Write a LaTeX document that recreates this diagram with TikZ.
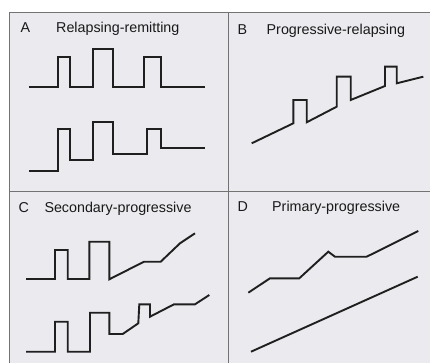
\documentclass[tikz,border=0pt]{standalone}
\usepackage{fontspec}
\setmainfont{Liberation Sans}
\definecolor{panelbg}{RGB}{234,234,239}
\begin{document}
\begin{tikzpicture}[x=1pt,y=-1pt,
  curve/.style={line width=1.9pt, draw=black!88, line join=miter},
  frame/.style={line width=1.1pt, draw=black!55},
  lbl/.style={anchor=base west, inner sep=0pt, font=\fontsize{14.3}{17}\selectfont, text=black!90}]
\useasboundingbox (0,0) rectangle (430,363);
\fill[white] (0,0) rectangle (430,363);
\fill[panelbg] (9.5,12.5) rectangle (430,363);
\draw[frame] (430,12.5) -- (9.5,12.5) -- (9.5,363);
\draw[frame] (228.3,12.5) -- (228.3,363);
\draw[frame] (9.5,191.7) -- (430,191.7);
% labels
\node[lbl] (la) at (20.5,33) {A};
\node[lbl] (ta) at (56,33) {Relapsing-remitting};
\node[lbl] (lb) at (237.5,35) {B};
\node[lbl] (tb) at (266.5,35) {Progressive-relapsing};
\node[lbl] (lc) at (18.3,212) {C};
\node[lbl] (tc) at (44.3,212) {Secondary-progressive};
\node[lbl] (ld) at (237.5,211.5) {D};
\node[lbl] (td) at (272,211.5) {Primary-progressive};
% A
\draw[curve] (29,86.7) -- (58.3,86.7) -- (58.3,57.3) -- (70,57.3) -- (70,86.7) -- (92.7,86.7) -- (92.7,49.3) -- (113.3,49.3) -- (113.3,86.7) -- (144,86.7) -- (144,57) -- (160.7,57) -- (160.7,86.7) -- (205,86.7);
\draw[curve] (29,170.7) -- (58.3,170.7) -- (58.3,129) -- (70,129) -- (70,160) -- (92.7,160) -- (92.7,122.3) -- (113.3,122.3) -- (113.3,154) -- (146.7,154) -- (146.7,129) -- (160.7,129) -- (160.7,148.3) -- (205,148.3);
% B
\draw[curve] (251.7,143.3) -- (293.3,123.3) -- (293.3,100) -- (306.7,100) -- (306.7,122.3) -- (336.7,106.7) -- (336.7,76.7) -- (350.7,76.7) -- (350.7,100) -- (385,86) -- (385,66.7) -- (396.7,66.7) -- (396.7,83.3) -- (423.3,76.7);
% C
\draw[curve] (26,279) -- (55,279) -- (55,250) -- (67.7,250) -- (67.7,279) -- (89.3,279) -- (89.3,241.7) -- (109.3,241.7) -- (109.3,279.3) -- (144,261.7) -- (160.7,261.7) -- (180,243.3) -- (195,233.3);
\draw[curve] (26,351.7) -- (55,351.7) -- (55,321.7) -- (67.7,321.7) -- (67.7,351.7) -- (90,351.7) -- (90,312.7) -- (109.3,312.7) -- (109.3,334) -- (122.7,334) -- (138.3,323.3) -- (139.3,304.3) -- (150,304.3) -- (150,316.7) -- (174,304.3) -- (195,304.3) -- (209.3,295);
% D
\draw[curve] (248.3,292.7) -- (270,278.3) -- (299.3,278.3) -- (328.3,251.7) -- (335,256.7) -- (366.7,256.7) -- (418.3,231);
\draw[curve] (251,351.7) -- (417.7,276.7);
\end{tikzpicture}
\end{document}
